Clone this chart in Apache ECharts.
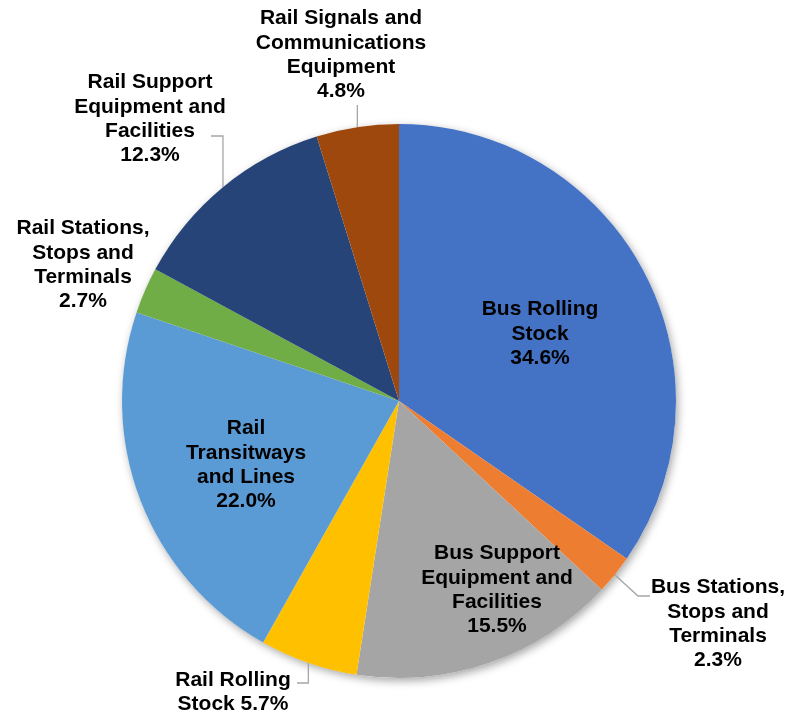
<!DOCTYPE html>
<html>
<head>
<meta charset="utf-8">
<script src="https://cdn.jsdelivr.net/npm/echarts@6/dist/echarts.min.js"></script>
<style>
html,body{margin:0;padding:0;background:#fff;}
#chart{width:788px;height:715px;}
</style>
</head>
<body>
<div id="chart"></div>
<script>
const categories = [
  "Bus Rolling\nStock",
  "Bus Stations,\nStops and\nTerminals",
  "Bus Support\nEquipment and\nFacilities",
  "Rail Rolling\nStock",
  "Rail\nTransitways\nand Lines",
  "Rail Stations,\nStops and\nTerminals",
  "Rail Support\nEquipment and\nFacilities",
  "Rail Signals and\nCommunications\nEquipment"
];
const shares = [34.6, 2.3, 15.5, 5.7, 22.0, 2.7, 12.3, 4.8];
const colors = ["#4472C4", "#ED7D31", "#A5A5A5", "#FFC000", "#5B9BD5", "#70AD47", "#264478", "#9E480E"];
const insideLabel = [true, false, true, false, true, false, false, false];
const hasLeader = [false, true, false, true, false, false, true, true];
// label centre positions (layout only)
const labelPos = [
  [540, 334], [718, 624], [497, 590], [233, 692],
  [246, 465], [83, 265], [150, 119], [341, 55]
];
// leader-line elbow and end points (layout only); first point comes from the slice edge
const leaderPts = [
  null, [[638, 596], [650, 596]], null, ['sx', 683, 297, 683],
  null, null, ['sx', 136, 211, 136], ['sx', 105, 'sx', 105]
];

const chart = echarts.init(document.getElementById('chart'), null, {renderer: 'canvas'});
const FONT = '"Liberation Sans", Arial, sans-serif';

chart.setOption({
  animation: false,
  backgroundColor: '#ffffff',
  series: [
    {
      type: 'pie',
      silent: true,
      center: [399, 401],
      radius: 277,
      z: 1,
      label: {show: false},
      labelLine: {show: false},
      itemStyle: {
        color: '#ffffff',
        shadowBlur: 8,
        shadowColor: 'rgba(0,0,0,0.35)',
        shadowOffsetX: 2,
        shadowOffsetY: 3
      },
      data: [{value: 1, name: ''}]
    },
    {
      type: 'pie',
      center: [399, 401],
      radius: 277,
      startAngle: 90,
      clockwise: true,
      z: 2,
      avoidLabelOverlap: false,
      itemStyle: {borderWidth: 0},
      label: {
        fontFamily: FONT,
        fontWeight: 'bold',
        fontSize: 21,
        lineHeight: 24.3,
        color: '#000000',
        align: 'center'
      },
      labelLine: {
        show: true,
        length: 15,
        length2: 10,
        lineStyle: {color: '#A6A6A6', width: 1.3}
      },
      labelLayout: function (p) {
        const i = p.dataIndex;
        const pos = labelPos[i];
        const out = {x: pos[0], y: pos[1], align: 'center', verticalAlign: 'middle'};
        const lp = leaderPts[i];
        if (lp && p.labelLinePoints) {
          const s = p.labelLinePoints[0];
          if (Array.isArray(lp[0])) {
            out.labelLinePoints = [[s[0], s[1]], lp[0], lp[1]];
          } else {
            const ex = lp[2] === 'sx' ? s[0] : lp[2];
            out.labelLinePoints = [[s[0], s[1]], [s[0], lp[1]], [ex, lp[3]]];
          }
        }
        return out;
      },
      data: categories.map((c, i) => ({
        name: c,
        value: shares[i],
        itemStyle: {color: colors[i]},
        label: {
          position: insideLabel[i] ? 'inside' : 'outside',
          formatter: (i === 3 ? c + ' ' : c + '\n') + shares[i].toFixed(1) + '%'
        },
        labelLine: {show: hasLeader[i]}
      }))
    }
  ]
});
</script>
</body>
</html>
